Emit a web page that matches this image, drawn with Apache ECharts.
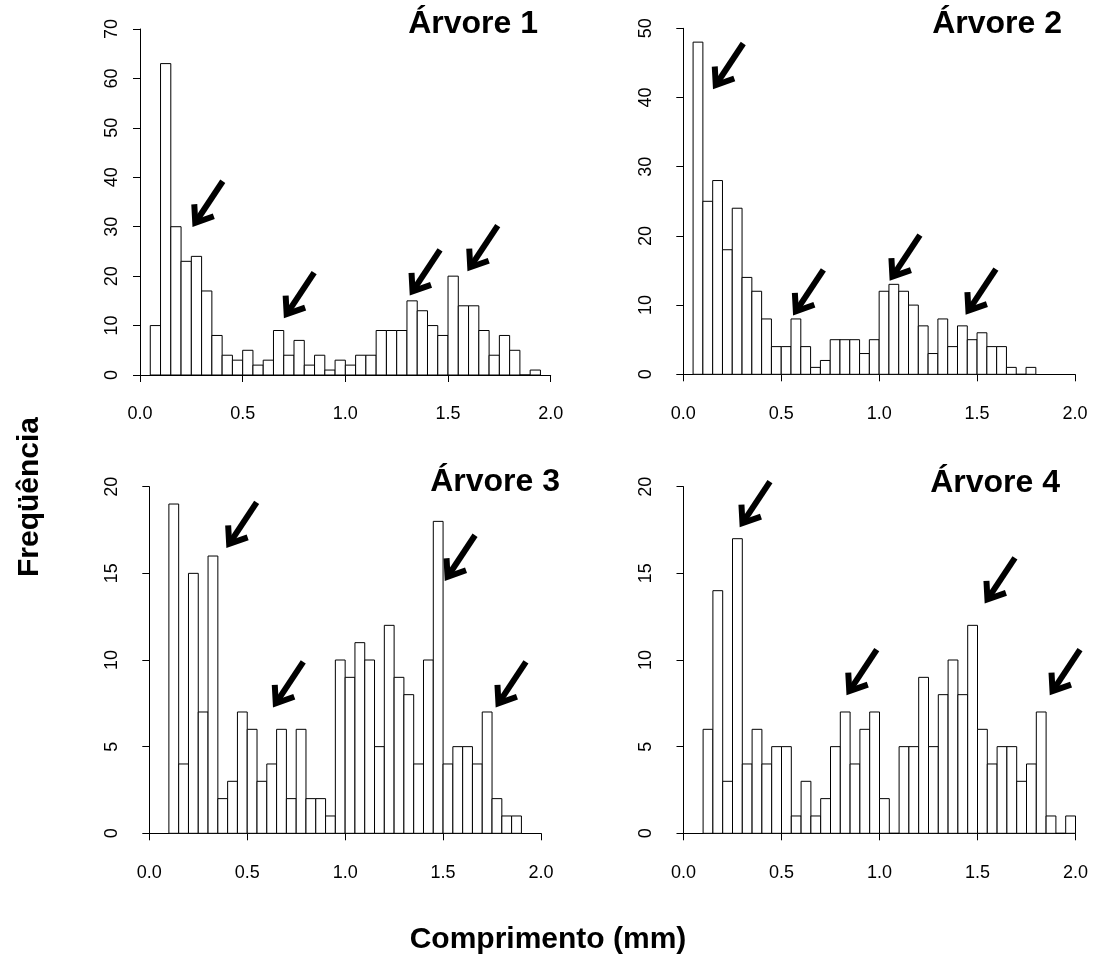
<!DOCTYPE html>
<html lang="pt">
<head>
    <meta charset="UTF-8">
    <title>Frequência por comprimento</title>
    <script src="https://cdn.jsdelivr.net/npm/echarts@6/dist/echarts.min.js"></script>
    <style>
        body { margin: 0; background: #fff; }
    </style>
</head>
<body>
    <div id="chart" style="width:1094px;height:967px;"></div>

    <script>
        // largura das classes do histograma (mm)
        var binWidth = 0.05;

        // Árvore 1..4: início da primeira classe e contagens
        var start1 = 0.05;
        var counts1 = [10, 63, 30, 23, 24, 17, 8, 4, 3, 5, 2, 3, 9, 4, 7, 2, 4, 1, 3, 2,
                       4, 4, 9, 9, 9, 15, 13, 10, 8, 20, 14, 14, 9, 4, 8, 5, 0, 1];
        var start2 = 0.05;
        var counts2 = [48, 25, 28, 18, 24, 14, 12, 8, 4, 4, 8, 4, 1, 2, 5, 5, 5, 3, 5, 12,
                       13, 12, 10, 7, 3, 8, 4, 7, 5, 6, 4, 4, 1, 0, 1];
        var start3 = 0.10;
        var counts3 = [19, 4, 15, 7, 16, 2, 3, 7, 6, 3, 4, 6, 2, 6, 2, 2, 1, 10, 9, 11,
                       10, 5, 12, 9, 8, 4, 10, 18, 4, 5, 5, 4, 7, 2, 1, 1];
        var start4 = 0.10;
        var counts4 = [6, 14, 3, 17, 4, 6, 4, 5, 5, 1, 3, 1, 2, 5, 7, 4, 6, 7, 2, 0,
                       5, 5, 9, 5, 8, 10, 8, 12, 6, 4, 5, 5, 3, 4, 7, 1, 0, 1];

        // pontas das setas (x em mm, y em frequência)
        var arrows1 = [[0.257, 30.1], [0.702, 11.6], [1.315, 16.2], [1.596, 21.1]];
        var arrows2 = [[0.153, 41.3], [0.562, 8.6], [1.055, 13.6], [1.443, 8.7]];
        var arrows3 = [[0.395, 16.5], [0.633, 7.3], [1.51, 14.6], [1.77, 7.3]];
        var arrows4 = [[0.288, 17.7], [0.833, 8.0], [1.538, 13.3], [1.87, 8.0]];

        var titles = ['Árvore 1', 'Árvore 2', 'Árvore 3', 'Árvore 4'];
        var yMax = [70, 50, 20, 20];
        var yStep = [10, 10, 5, 5];
        var xMin = 0, xMax = 2, xStep = 0.5;

        var font = '"Liberation Sans", Arial, sans-serif';

        function bins(start, counts) {
            return counts.map(function (c, i) {
                return [Math.round((start + i * binWidth) * 100) / 100, c];
            });
        }

        function renderBar(params, api) {
            var x0 = api.value(0);
            var p0 = api.coord([x0, api.value(1)]);
            var p1 = api.coord([x0 + binWidth, 0]);
            return {
                type: 'rect',
                shape: { x: p0[0], y: p0[1], width: p1[0] - p0[0], height: p1[1] - p0[1] },
                style: { fill: '#fff', stroke: '#000', lineWidth: 1 }
            };
        }

        function renderArrow(params, api) {
            var p = api.coord([api.value(0), api.value(1)]);
            var tx = p[0], ty = p[1];
            return {
                type: 'group',
                children: [
                    { type: 'line', shape: { x1: tx + 30, y1: ty - 45, x2: tx + 2.5, y2: ty - 3.5 },
                      style: { stroke: '#000', lineWidth: 6 } },
                    { type: 'polyline', shape: { points: [[tx + 1.5, ty - 22], [tx + 2.5, ty - 3.5], [tx + 21, ty - 10]] },
                      style: { stroke: '#000', lineWidth: 6, fill: null, lineJoin: 'miter' } }
                ]
            };
        }

        var grids = [
            { left: 140, top: 29, width: 410.7, height: 346 },
            { left: 683.3, top: 28.3, width: 391.7, height: 346 },
            { left: 149.3, top: 486.7, width: 391.7, height: 346.6 },
            { left: 683.5, top: 486.7, width: 392, height: 346.6 }
        ];
        var xOffsets = [14, 14.7, 15, 15];
        var yOffsets = [6.7, 16.6, 16, 16.5];

        var axisLine = { show: true, lineStyle: { color: '#000', width: 1 } };
        var axisTick = { show: true, length: 7, lineStyle: { color: '#000', width: 1 } };

        var xAxes = [], yAxes = [], series = [];
        var allBins = [bins(start1, counts1), bins(start2, counts2), bins(start3, counts3), bins(start4, counts4)];
        var allArrows = [arrows1, arrows2, arrows3, arrows4];

        for (var i = 0; i < 4; i++) {
            xAxes.push({
                gridIndex: i, type: 'value', min: xMin, max: xMax, interval: xStep,
                position: 'bottom', offset: xOffsets[i],
                axisLine: axisLine, axisTick: axisTick, splitLine: { show: false },
                axisLabel: { color: '#000', fontSize: 18, fontFamily: font, margin: 16,
                             formatter: function (v) { return v.toFixed(1); } }
            });
            yAxes.push({
                gridIndex: i, type: 'value', min: 0, max: yMax[i], interval: yStep[i],
                position: 'left', offset: yOffsets[i],
                axisLine: axisLine, axisTick: axisTick, splitLine: { show: false },
                axisLabel: { color: '#000', fontSize: 18, fontFamily: font, margin: 12, rotate: 90 }
            });
            series.push({
                type: 'custom', coordinateSystem: 'cartesian2d',
                xAxisIndex: i, yAxisIndex: i,
                renderItem: renderBar, data: allBins[i], silent: true
            });
            series.push({
                type: 'custom', coordinateSystem: 'cartesian2d',
                xAxisIndex: i, yAxisIndex: i,
                renderItem: renderArrow, data: allArrows[i], silent: true, z: 5
            });
        }

        // títulos dos painéis (canto direito)
        var titlePos = [[538, 24], [1062, 24], [560, 482.5], [1060, 483.5]];
        var graphics = titles.map(function (t, i) {
            return {
                type: 'text', x: titlePos[i][0], y: titlePos[i][1],
                style: { text: t, fill: '#000', font: 'bold 32px ' + font, align: 'right', verticalAlign: 'middle' }
            };
        });
        graphics.push({
            type: 'text', x: 30, y: 497, rotation: Math.PI / 2,
            style: { text: 'Freqüência', fill: '#000', font: 'bold 30px ' + font, align: 'center', verticalAlign: 'middle' }
        });
        graphics.push({
            type: 'text', x: 548, y: 940,
            style: { text: 'Comprimento (mm)', fill: '#000', font: 'bold 30px ' + font, align: 'center', verticalAlign: 'middle' }
        });

        var myChart = echarts.init(document.getElementById('chart'));
        var option = {
            backgroundColor: '#fff',
            animation: false,
            grid: grids,
            xAxis: xAxes,
            yAxis: yAxes,
            series: series,
            graphic: graphics
        };
        myChart.setOption(option);
    </script>
</body>
</html>
